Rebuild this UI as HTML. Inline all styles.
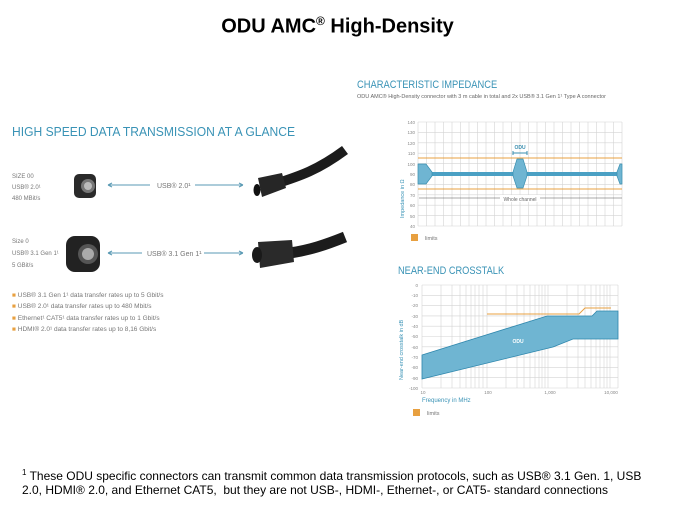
<!DOCTYPE html>
<html><head><meta charset="utf-8"><style>
body{margin:0;width:675px;height:506px;background:#fff;position:relative;overflow:hidden;font-family:"Liberation Sans",sans-serif}
.a{position:absolute;white-space:nowrap}
.s{font-size:6px;color:#777}
</style></head><body>
<div class="a" style="left:0;width:675px;top:14px;text-align:center;font-size:20px;font-weight:bold">ODU AMC<sup style="font-size:12px">®</sup> High-Density</div>
<div class="a" style="left:12px;top:124px;font-size:13px;color:#3a93b6;transform:scaleX(0.93);transform-origin:0 0">HIGH SPEED DATA TRANSMISSION AT A GLANCE</div>
<div class="a s" style="left:12px;top:172px;line-height:11px">SIZE 00<br>USB® 2.0¹<br>480 MBit/s</div>
<div class="a s" style="left:12px;top:236px;line-height:12px">Size 0<br>USB® 3.1 Gen 1¹<br>5 GBit/s</div>
<div class="a s" style="left:12px;top:290px;line-height:11.3px;font-size:6.5px"><span style="color:#e8a040">■</span> USB® 3.1 Gen 1¹ data transfer rates up to 5 Gbit/s<br><span style="color:#e8a040">■</span> USB® 2.0¹ data transfer rates up to 480 Mbit/s<br><span style="color:#e8a040">■</span> Ethernet¹ CAT5¹ data transfer rates up to 1 Gbit/s<br><span style="color:#e8a040">■</span> HDMI® 2.0¹ data transfer rates up to 8,16 Gbit/s</div>
<svg class="a" style="left:0;top:0" width="675" height="506">
<g stroke="#5a9ab4" stroke-width="1" fill="none">
<path d="M108 185H150M195 185H243M108 185l4-2M108 185l4 2M243 185l-4-2M243 185l-4 2"/>
<path d="M108 253H142M204 253H243M108 253l4-2M108 253l4 2M243 253l-4-2M243 253l-4 2"/>
</g>
<text x="157" y="188" font-size="7" fill="#777">USB® 2.0¹</text>
<text x="147" y="256" font-size="7" fill="#777">USB® 3.1 Gen 1¹</text>
<rect x="74" y="174" width="22" height="24" rx="5" fill="#2a2a2a"/><circle cx="88" cy="186" r="7" fill="#777"/><circle cx="88" cy="186" r="4" fill="#bbb"/>
<rect x="66" y="236" width="34" height="36" rx="9" fill="#222"/><circle cx="88" cy="254" r="10" fill="#555"/><circle cx="88" cy="254" r="6" fill="#aaa"/>
<path d="M275 184 C 300 176, 318 170, 345 150" stroke="#1c1c1c" stroke-width="10" fill="none"/>
<path d="M258 178 L282 173 L286 188 L262 197 Z" fill="#262626"/>
<ellipse cx="257" cy="190" rx="3.5" ry="6" fill="#111"/>
<path d="M290 253 C 310 250, 325 245, 345 237" stroke="#1c1c1c" stroke-width="11" fill="none"/>
<path d="M258 242 L292 240 L294 262 L260 268 Z" fill="#2a2a2a"/>
<ellipse cx="257" cy="255" rx="5" ry="8" fill="#1a1a1a"/>
<path d="M418 122H622M418 132.4H622M418 142.8H622M418 153.2H622M418 163.6H622M418 174H622M418 184.4H622M418 194.8H622M418 205.2H622M418 215.6H622M418 226H622" stroke="#d4d4d4" stroke-width="0.6"/>
<path d="M418 122V226M426.5 122V226M435 122V226M443.5 122V226M452 122V226M460.5 122V226M469 122V226M477.5 122V226M486 122V226M494.5 122V226M503 122V226M511.5 122V226M520 122V226M528.5 122V226M537 122V226M545.5 122V226M554 122V226M562.5 122V226M571 122V226M579.5 122V226M588 122V226M596.5 122V226M605 122V226M613.5 122V226M622 122V226" stroke="#d4d4d4" stroke-width="0.6"/>
<path d="M418 158H622M418 189H622" stroke="#e8a040" stroke-width="1"/>
<rect x="418" y="172" width="204" height="4" fill="#4aa0c4"/>
<path d="M418 164H426L432 172V176L426 184H418Z M517 159H523L527 172V176L523 188H517L513 176V172Z M622 164H620L617 172V176L620 184H622Z" fill="#6fb5d2" stroke="#3a8fb0" stroke-width="0.7"/>
<path d="M513 153H527M513 151V155M527 151V155" stroke="#3a8fb0" stroke-width="1"/>
<text x="520" y="149" font-size="5" fill="#3a8fb0" text-anchor="middle" font-weight="bold">ODU</text>
<path d="M419 198H622" stroke="#555" stroke-width="0.6"/>
<rect x="500" y="195" width="40" height="7" fill="#fff"/>
<text x="520" y="201" font-size="5" fill="#666" text-anchor="middle">Whole channel</text>
<g font-size="4.5" fill="#888" text-anchor="end">
<text x="415" y="124">140</text><text x="415" y="134">130</text><text x="415" y="145">120</text><text x="415" y="155">110</text><text x="415" y="166">100</text><text x="415" y="176">90</text><text x="415" y="186">80</text><text x="415" y="197">70</text><text x="415" y="207">60</text><text x="415" y="218">50</text><text x="415" y="228">40</text>
</g>
<text transform="translate(404 218) rotate(-90)" font-size="5.5" fill="#3a93b6">Impedance in Ω</text>
<rect x="411" y="234" width="7" height="7" fill="#e8a040"/>
<text x="425" y="240" font-size="5.5" fill="#777">limits</text>
<path d="M422 285H618M422 295.3H618M422 305.6H618M422 315.9H618M422 326.2H618M422 336.5H618M422 346.8H618M422 357.1H618M422 367.4H618M422 377.7H618M422 388H618" stroke="#d4d4d4" stroke-width="0.6"/>
<path d="M422 285V388M441 285V388M452 285V388M460 285V388M466 285V388M471 285V388M475 285V388M479 285V388M483 285V388M487 285V388M506 285V388M517 285V388M524 285V388M530 285V388M535 285V388M539 285V388M542 285V388M545 285V388M548 285V388M567 285V388M578 285V388M585 285V388M591 285V388M596 285V388M600 285V388M604 285V388M607 285V388M610 285V388M618 285V388" stroke="#d4d4d4" stroke-width="0.6"/>
<path d="M422 355L547 316H592L597 311H618V339H573L553 347L422 379Z" fill="#6fb5d2" stroke="#2f87ad" stroke-width="0.8"/>
<path d="M487 314H579L585 308H611" stroke="#e8a040" stroke-width="1" fill="none"/>
<text x="518" y="343" font-size="5" fill="#fff" text-anchor="middle" font-weight="bold">ODU</text>
<g font-size="4.5" fill="#888" text-anchor="end">
<text x="418" y="287">0</text><text x="418" y="297">-10</text><text x="418" y="307">-20</text><text x="418" y="318">-30</text><text x="418" y="328">-40</text><text x="418" y="338">-50</text><text x="418" y="349">-60</text><text x="418" y="359">-70</text><text x="418" y="369">-80</text><text x="418" y="380">-90</text><text x="418" y="390">-100</text>
</g>
<g font-size="4.5" fill="#888" text-anchor="middle">
<text x="423" y="394">10</text><text x="488" y="394">100</text><text x="550" y="394">1,000</text><text x="611" y="394">10,000</text>
</g>
<text transform="translate(403 380) rotate(-90)" font-size="5.5" fill="#3a93b6">Near-end crosstalk in dB</text>
<text x="422" y="402" font-size="6" fill="#3a93b6">Frequency in MHz</text>
<rect x="413" y="409" width="7" height="7" fill="#e8a040"/>
<text x="427" y="415" font-size="5.5" fill="#777">limits</text>
</svg>
<div class="a" style="left:357px;top:79px;font-size:11px;color:#3a93b6;transform:scaleX(0.85);transform-origin:0 0">CHARACTERISTIC IMPEDANCE</div>
<div class="a" style="left:357px;top:94px;font-size:5.5px;color:#666">ODU AMC® High-Density connector with 3 m cable in total and 2x USB® 3.1 Gen 1¹ Type A connector</div>
<div class="a" style="left:398px;top:265px;font-size:11px;color:#3a93b6;transform:scaleX(0.84);transform-origin:0 0">NEAR-END CROSSTALK</div>
<div class="a" style="left:22px;top:466px;font-size:12px;line-height:14px;color:#000;white-space:normal;width:640px"><sup style="font-size:8px">1</sup> These ODU specific connectors can transmit common data transmission protocols, such as USB® 3.1 Gen. 1, USB 2.0, HDMI® 2.0, and Ethernet CAT5,&nbsp; but they are not USB-, HDMI-, Ethernet-, or CAT5- standard connections</div>
</body></html>
